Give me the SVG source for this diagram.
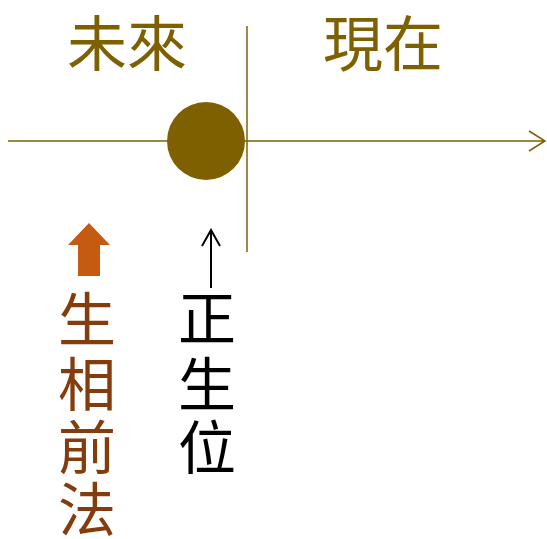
<svg xmlns="http://www.w3.org/2000/svg" width="547" height="539" viewBox="0 0 547 539">
<style>
.cjk{font-family:"Noto Sans CJK TC","Noto Sans CJK SC",sans-serif;text-anchor:middle}
.gold{fill:#7F6000}
.axis{stroke:#7F6000;stroke-width:1.5;fill:none}
</style>
<rect width="547" height="539" fill="#fff"/>
<g id="connectors">
<path class="axis" d="M8,141H545M529,131L545,141L529,151"/>
<path class="axis" d="M247,26V252"/>
<path d="M211,288V230M202,246L211,230L220,246" stroke="#000" stroke-width="2" fill="none"/>
<path d="M89,223L110,245H100V276H78V245H68Z" fill="#C55A11"/>
</g>
<g id="dot"><circle cx="206" cy="141" r="39" fill="#7F6000"/></g>
<g id="future"><text class="cjk gold" x="127" y="66" font-size="60">未來</text></g>
<g id="present"><text class="cjk gold" x="383" y="66" font-size="60">現在</text></g>
<g id="left-label" class="cjk" fill="#843C0C" font-size="58">
<text x="87" y="341">生</text>
<text x="87" y="406">相</text>
<text x="87" y="469">前</text>
<text x="87" y="531">法</text>
</g>
<g id="right-label" class="cjk" fill="#000" font-size="58">
<text x="207" y="340">正</text>
<text x="207" y="406">生</text>
<text x="207" y="469">位</text>
</g>
</svg>
